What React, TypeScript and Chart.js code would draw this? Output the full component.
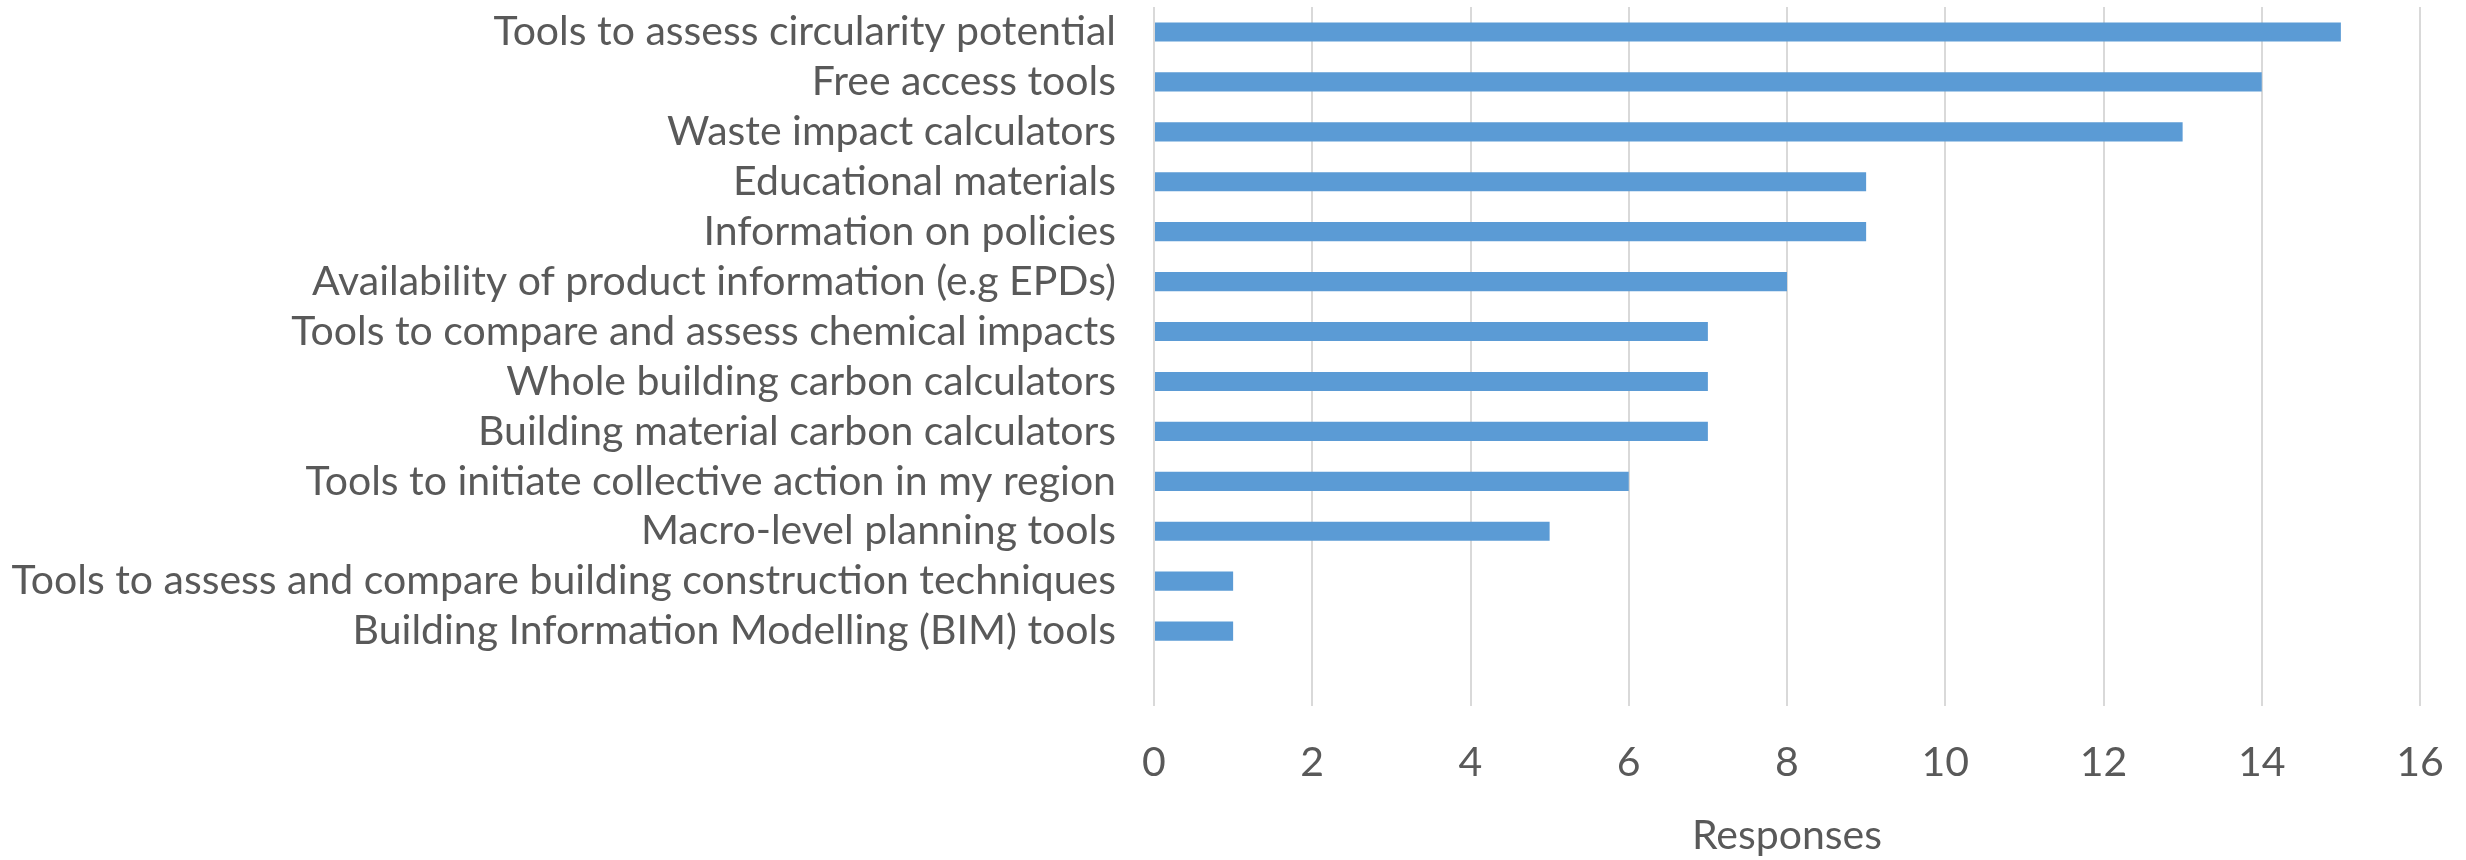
import React, { useEffect, useRef } from "react";
import { Chart, registerables } from "chart.js";

Chart.register(...registerables);

// Survey categories (top to bottom); the trailing blank row leaves the empty band under the last bar
const categories: string[] = [
  "Tools to assess circularity potential",
  "Free access tools",
  "Waste impact calculators",
  "Educational materials",
  "Information on policies",
  "Availability of product information (e.g EPDs)",
  "Tools to compare and assess chemical impacts",
  "Whole building carbon calculators",
  "Building material carbon calculators",
  "Tools to initiate collective action in my region",
  "Macro-level planning tools",
  "Tools to assess and compare building construction techniques",
  "Building Information Modelling (BIM) tools",
  "",
];

const responses: (number | null)[] = [15, 14, 13, 9, 9, 8, 7, 7, 7, 6, 5, 1, 1, null];

const xTicks: number[] = [0, 2, 4, 6, 8, 10, 12, 14, 16];

const W = 2466;
const H = 860;
const FONT = "Lato, 'Open Sans', sans-serif";
const FONT_SIZE = 41;
const TEXT = "#595959";

export default function App() {
  const ref = useRef<HTMLCanvasElement | null>(null);

  useEffect(() => {
    if (!ref.current) return;
    const chart = new Chart(ref.current, {
      type: "bar",
      data: {
        labels: categories,
        datasets: [
          {
            label: "Responses",
            data: responses,
            backgroundColor: "#5b9bd5",
            borderWidth: 0,
            categoryPercentage: 0.8,
            barPercentage: 0.48,
          },
        ],
      },
      options: {
        indexAxis: "y",
        responsive: false,
        animation: false,
        layout: { padding: { top: 7, right: 46, left: 0, bottom: 0 } },
        plugins: { legend: { display: false }, tooltip: { enabled: false } },
        scales: {
          x: {
            min: 0,
            max: 16,
            afterBuildTicks: (scale: any) => {
              scale.ticks = xTicks.map((v) => ({ value: v }));
            },
            grid: { color: "#d9d9d9", lineWidth: 2, drawTicks: false },
            border: { display: false },
            ticks: {
              color: TEXT,
              font: { family: FONT, size: FONT_SIZE },
              padding: 32,
            },
            title: {
              display: true,
              text: "Responses",
              color: TEXT,
              font: { family: FONT, size: FONT_SIZE },
              padding: { top: 0, bottom: 0 },
            },
            afterFit: (scale: any) => {
              scale.height = 154;
              scale.paddingLeft = 0;
              scale.paddingRight = 0;
            },
          },
          y: {
            grid: { display: false },
            border: { display: false },
            ticks: {
              color: TEXT,
              font: { family: FONT, size: FONT_SIZE },
              padding: 30,
              autoSkip: false,
            },
            afterFit: (scale: any) => {
              scale.width = 1154;
              scale.paddingTop = 0;
              scale.paddingBottom = 0;
            },
          },
        },
      },
    });
    return () => chart.destroy();
  }, []);

  return (
    <div style={{ position: "absolute", left: 0, top: 0, width: W, height: H, background: "#fff" }}>
      <canvas ref={ref} width={W} height={H} style={{ display: "block" }} />
    </div>
  );
}
